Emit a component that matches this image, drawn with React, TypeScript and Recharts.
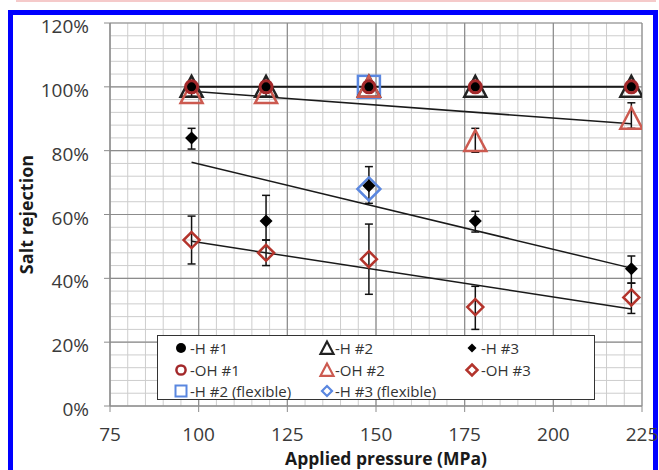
import React from 'react';
import { ComposedChart, Scatter, XAxis, YAxis, CartesianGrid, ErrorBar, Legend } from 'recharts';

// ---- data ----
const pressures = [98, 119, 148, 178, 222];
const hOne = [100, 100, 100, 100, 100];
const ohOne = [100, 100, 100, 100, 100];
const hTwo = [100, 100, 100, 100, 100];
const ohTwo = [98, 98, 100, 83, 90];
const ohTwoErrLow = [1, 1, 0, 3.5, 3];
const ohTwoErrHigh = [1, 1, 0, 4, 5];
const hThree = [84, 58, 69, 58, 43];
const hThreeErrLow = [3.5, 6, 5.5, 3.5, 4.5];
const hThreeErrHigh = [3, 8, 6, 3, 4];
const ohThree = [52, 48, 46, 31, 34];
const ohThreeErrLow = [7.5, 4, 11, 7, 5];
const ohThreeErrHigh = [7.5, 4, 11, 6.5, 4.5];
const flexPressure = [148];
const hTwoFlex = [100];
const hThreeFlex = [68];

const trendX = [98, 222];
const hTrend = [100, 100];
const ohTwoTrend = [98.6, 88.4];
const hThreeTrend = [76.4, 43.2];
const ohThreeTrend = [51.6, 30.4];

const xTicks = [75, 100, 125, 150, 175, 200, 225];
const yTicks = [0, 20, 40, 60, 80, 100, 120];
const xMinorTicks = [75, 80, 85, 90, 95, 100, 105, 110, 115, 120, 125, 130, 135, 140, 145, 150, 155, 160, 165, 170, 175, 180, 185, 190, 195, 200, 205, 210, 215, 220, 225];
const yMinorTicks = [0, 4, 8, 12, 16, 20, 24, 28, 32, 36, 40, 44, 48, 52, 56, 60, 64, 68, 72, 76, 80, 84, 88, 92, 96, 100, 104, 108, 112, 116, 120];
const xDomain = [75, 225];
const yDomain = [0, 120];

const legendNames = ['-H #1', '-H #2', '-H #3', '-OH #1', '-OH #2', '-OH #3', '-H #2 (flexible)', '-H #3 (flexible)'];
const legendKinds = ['dot', 'triBlack', 'diamondBlack', 'ring', 'triRed', 'diamondRed', 'squareBlue', 'diamondBlue'];

// ---- build ----
const mk = (xs: number[], ys: number[], lo?: number[], hi?: number[]) =>
  xs.map((x, i) => ({ x, y: ys[i], err: lo && hi ? [lo[i], hi[i]] : [0, 0] }));

const dHOne = mk(pressures, hOne);
const dOhOne = mk(pressures, ohOne);
const dHTwo = mk(pressures, hTwo);
const dOhTwo = mk(pressures, ohTwo, ohTwoErrLow, ohTwoErrHigh);
const dHThree = mk(pressures, hThree, hThreeErrLow, hThreeErrHigh);
const dOhThree = mk(pressures, ohThree, ohThreeErrLow, ohThreeErrHigh);
const dHTwoFlex = mk(flexPressure, hTwoFlex);
const dHThreeFlex = mk(flexPressure, hThreeFlex);
const tH = mk(trendX, hTrend);
const tOhTwo = mk(trendX, ohTwoTrend);
const tHThree = mk(trendX, hThreeTrend);
const tOhThree = mk(trendX, ohThreeTrend);

const RING = '#a3282a';
const TRI_RED = '#cc5a50';
const DIA_RED = '#b3342c';
const BLUE = '#5a87e0';
const FONT = "'Open Sans', 'DejaVu Sans', sans-serif";

type MProps = { kind: string; cx: number; cy: number; legend?: boolean };

function Marker({ kind, cx, cy, legend }: MProps) {
  const L = !!legend;
  switch (kind) {
    case 'dot':
      return <circle cx={cx} cy={cy} r={5} fill="#000" />;
    case 'ring':
      return <circle cx={cx} cy={cy} r={L ? 4.6 : 6} fill="none" stroke={RING} strokeWidth={L ? 2.5 : 3} />;
    case 'triBlack':
    case 'triRed': {
      const h = L ? 6.5 : 11;
      const w = L ? 6.5 : 11;
      const col = kind === 'triBlack' ? '#222' : TRI_RED;
      return (
        <polygon
          points={`${cx},${cy - h} ${cx - w},${cy + h * 0.9} ${cx + w},${cy + h * 0.9}`}
          fill="none"
          stroke={col}
          strokeWidth={L ? 2.2 : 2.5}
        />
      );
    }
    case 'diamondBlack': {
      const d = L ? 4.5 : 6.5;
      return <polygon points={`${cx},${cy - d} ${cx + d},${cy} ${cx},${cy + d} ${cx - d},${cy}`} fill="#000" />;
    }
    case 'diamondRed': {
      const d = L ? 5.5 : 8;
      return (
        <polygon points={`${cx},${cy - d} ${cx + d},${cy} ${cx},${cy + d} ${cx - d},${cy}`} fill="none" stroke={DIA_RED} strokeWidth={2.5} />
      );
    }
    case 'diamondBlue': {
      const d = L ? 5 : 11.5;
      return (
        <polygon points={`${cx},${cy - d} ${cx + d},${cy} ${cx},${cy + d} ${cx - d},${cy}`} fill="none" stroke={BLUE} strokeWidth={L ? 2.2 : 2.5} />
      );
    }
    case 'squareBlue': {
      const s = L ? 5.5 : 11;
      return <rect x={cx - s} y={cy - s} width={2 * s} height={2 * s} fill="none" stroke={BLUE} strokeWidth={L ? 2 : 2.5} />;
    }
    default:
      return <g />;
  }
}

const shapeOf = (kind: string) => (p: any) => <Marker kind={kind} cx={p.cx} cy={p.cy} />;
const noShape = () => <g />;

function LegendBox() {
  const colMarker = [24, 170, 315];
  const colText = [33, 178, 324];
  const rowY = [13, 35, 56];
  return (
    <div
      style={{
        width: 438,
        height: 65,
        boxSizing: 'border-box',
        border: '1.5px solid #333',
        background: '#fff',
        position: 'relative',
      }}
    >
      <svg width={438} height={65} style={{ position: 'absolute', left: -1.5, top: -1.5, overflow: 'visible' }}>
        {legendNames.map((n, i) => {
          const c = i % 3;
          const r = Math.floor(i / 3);
          return (
            <g key={n}>
              <Marker kind={legendKinds[i]} cx={colMarker[c]} cy={rowY[r]} legend />
              <text x={colText[c]} y={rowY[r] + 5.5} fontSize={15} fill="#333" fontFamily={FONT}>
                {n}
              </text>
            </g>
          );
        })}
      </svg>
    </div>
  );
}

const YTick = (p: any) => (
  <text x={p.x} y={p.y + 10} textAnchor="end" fontSize={19} fill="#3a3a3a" fontFamily={FONT}>
    {`${p.payload.value}%`}
  </text>
);
const XTick = (p: any) => (
  <text x={p.x} y={p.y + 29} textAnchor="middle" fontSize={19} fill="#3a3a3a" fontFamily={FONT}>
    {p.payload.value}
  </text>
);

const vGen = (props: any) => {
  const ax = props && props.xAxis;
  const off = props.offset;
  return xMinorTicks.map((v) =>
    ax && typeof ax.scale === 'function' ? ax.scale(v) : off.left + ((v - xDomain[0]) / (xDomain[1] - xDomain[0])) * off.width
  );
};
const hGen = (props: any) => {
  const ax = props && props.yAxis;
  const off = props.offset;
  return yMinorTicks.map((v) =>
    ax && typeof ax.scale === 'function' ? ax.scale(v) : off.top + off.height - ((v - yDomain[0]) / (yDomain[1] - yDomain[0])) * off.height
  );
};

export default function App() {
  return (
    <div style={{ position: 'absolute', left: 0, top: 0, width: 659, height: 470, overflow: 'hidden', background: '#fff' }}>
      <div style={{ position: 'absolute', left: 16, top: 0, width: 640, height: 2, background: '#f5caca' }} />
      <div
        style={{
          position: 'absolute',
          left: 8,
          top: 10,
          width: 650,
          height: 480,
          boxSizing: 'border-box',
          border: '5px solid #0000ff',
        }}
      />
      <div style={{ position: 'absolute', left: 0, top: 0 }}>
        <ComposedChart width={659} height={470} margin={{ top: 23, right: 17, bottom: 0, left: 10 }}>
          <CartesianGrid stroke="#cdcdcd" strokeWidth={1} verticalCoordinatesGenerator={vGen} horizontalCoordinatesGenerator={hGen} />
          <CartesianGrid stroke="#8c8c8c" strokeWidth={1.2} />
          <XAxis
            type="number"
            dataKey="x"
            domain={xDomain}
            ticks={xTicks}
            allowDataOverflow
            height={64}
            tickSize={6}
            tickMargin={0}
            stroke="#8c8c8c"
            tick={XTick}
            label={{
              value: 'Applied pressure (MPa)',
              position: 'insideBottom',
              offset: 5,
              dx: 10,
              style: { fontWeight: 700, fontSize: 17.5, fill: '#1a1a1a', fontFamily: FONT },
            }}
          />
          <YAxis
            type="number"
            dataKey="y"
            domain={yDomain}
            ticks={yTicks}
            allowDataOverflow
            width={100}
            tickSize={6}
            tickMargin={15}
            stroke="#8c8c8c"
            tick={YTick}
            label={{
              value: 'Salt rejection',
              angle: -90,
              position: 'insideLeft',
              offset: 17,
              style: { fontWeight: 700, fontSize: 18, fill: '#1a1a1a', fontFamily: FONT, textAnchor: 'middle' },
            }}
          />
          <Scatter data={tH} line={{ stroke: '#1a1a1a', strokeWidth: 2 }} shape={noShape} isAnimationActive={false} legendType="none" />
          <Scatter data={tOhTwo} line={{ stroke: '#1a1a1a', strokeWidth: 1.5 }} shape={noShape} isAnimationActive={false} legendType="none" />
          <Scatter data={tHThree} line={{ stroke: '#1a1a1a', strokeWidth: 1.5 }} shape={noShape} isAnimationActive={false} legendType="none" />
          <Scatter data={tOhThree} line={{ stroke: '#1a1a1a', strokeWidth: 1.5 }} shape={noShape} isAnimationActive={false} legendType="none" />

          <Scatter name="-H #2 (flexible)" data={dHTwoFlex} shape={shapeOf('squareBlue')} isAnimationActive={false} />
          <Scatter name="-H #2" data={dHTwo} shape={shapeOf('triBlack')} isAnimationActive={false} />
          <Scatter name="-OH #2" data={dOhTwo} shape={shapeOf('triRed')} isAnimationActive={false}>
            <ErrorBar dataKey="err" direction="y" stroke="#111" strokeWidth={1.5} width={4} />
          </Scatter>
          <Scatter name="-H #3 (flexible)" data={dHThreeFlex} shape={shapeOf('diamondBlue')} isAnimationActive={false} />
          <Scatter name="-H #3" data={dHThree} shape={shapeOf('diamondBlack')} isAnimationActive={false}>
            <ErrorBar dataKey="err" direction="y" stroke="#111" strokeWidth={1.5} width={4} />
          </Scatter>
          <Scatter name="-OH #3" data={dOhThree} shape={shapeOf('diamondRed')} isAnimationActive={false}>
            <ErrorBar dataKey="err" direction="y" stroke="#111" strokeWidth={1.5} width={4} />
          </Scatter>
          <Scatter name="-H #1" data={dHOne} shape={shapeOf('dot')} isAnimationActive={false} />
          <Scatter name="-OH #1" data={dOhOne} shape={shapeOf('ring')} isAnimationActive={false} />

          <Legend
            content={() => <LegendBox />}
            layout="horizontal"
            verticalAlign="middle"
            align="center"
            width={438}
            height={65}
            wrapperStyle={{ left: 157, top: 335, width: 438, height: 65 }}
          />
        </ComposedChart>
      </div>
    </div>
  );
}
